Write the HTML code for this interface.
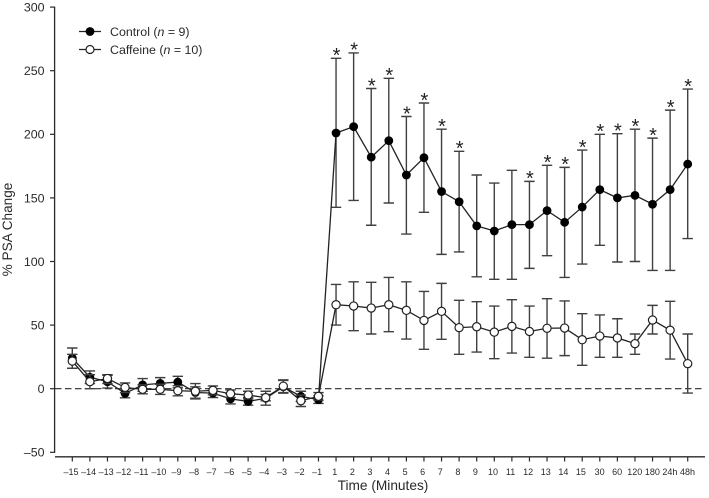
<!DOCTYPE html>
<html>
<head>
<meta charset="utf-8">
<title>% PSA Change over time</title>
<style>
html,body{margin:0;padding:0;background:#fff;width:709px;height:498px;overflow:hidden}
svg{display:block;font-family:"Liberation Sans",sans-serif}
</style>
</head>
<body>
<svg id="chart" xmlns="http://www.w3.org/2000/svg" width="709" height="498" viewBox="0 0 709 498">
  <g id="axes"></g>
  <g id="series-control"></g>
  <g id="series-caffeine"></g>
  <g id="stars"></g>
  <text transform="translate(12,229.5) rotate(-90)" text-anchor="middle" font-size="13.6" fill="#2a2a2a">% PSA Change</text>
  <text x="383" y="490" text-anchor="middle" font-size="13.7" fill="#2a2a2a">Time (Minutes)</text>
  <g>
    <g>
      <line x1="79" x2="101" y1="31.5" y2="31.5" stroke="#222" stroke-width="1.3"/>
      <circle cx="90" cy="31.5" r="4.4" fill="#000"/>
      <text x="110" y="36" font-size="12.4" fill="#2a2a2a">Control (<tspan font-style="italic">n</tspan> = 9)</text>
    </g>
    <g>
      <line x1="79" x2="101" y1="49.5" y2="49.5" stroke="#222" stroke-width="1.3"/>
      <circle cx="90" cy="49.5" r="4" fill="#fff" stroke="#222" stroke-width="1.2"/>
      <text x="110" y="54" font-size="12.4" fill="#2a2a2a">Caffeine (<tspan font-style="italic">n</tspan> = 10)</text>
    </g>
  </g>
</svg>
<script>
var categories = ["–15","–14","–13","–12","–11","–10","–9","–8","–7","–6","–5","–4","–3","–2","–1","1","2","3","4","5","6","7","8","9","10","11","12","13","14","15","30","60","120","180","24h","48h"];
var yTickValues = [300,250,200,150,100,50,0,-50];
var yTickLabels = ["300","250","200","150","100","50","0","–50"];

var controlMean = [24,9,5.5,-3.7,3,4.2,5.2,-3,-3.5,-8,-10,-7.5,1.5,-6,-8.6,201,206,182,195,168,181.6,155,147,128,124,129,129,140,130.8,142.8,156.5,150,152,145,156.5,176.6];
var controlUpper = [32,14,10.5,0,8,8.7,9.7,1.5,0,-4,-7,-2,6.5,-2,-5.6,259.7,264,236,244,214,224.6,204,186.6,168,161.7,171.7,163,175.6,174,187.6,200,200.5,204,197,219,235.6];
var controlLower = [16,4,0.5,-7.2,-2,-0.3,0.7,-7.5,-7,-12,-13,-13,-3.5,-10,-11.6,142.6,148,128.5,146,121.6,138.7,105.6,107.5,88,86,86,94.6,104.6,87.5,98,112.7,99.6,100,93,93,118];

var caffeineMean = [21.7,5.5,8,1,-0.5,-0.5,-1.6,-2,-1.3,-4,-5,-7,2,-9.5,-6,66,65,63.4,66,61.6,53.7,60.8,48,48.7,44.5,49,45,47.5,47.7,38.5,41.4,39.9,35.4,54,46,19.7];
var caffeineUpper = [27,11,11,4.5,3,3.5,2.4,4,2.2,-1,-2,-4.5,7,-5,-3,82,84,83.6,87.5,84,76.5,82.8,69.5,68.4,65,70,65,70.8,69,59,58,55,43,65.5,68.7,43];
var caffeineLower = [16,0,4,-3,-4,-4.5,-5.6,-8,-4.8,-7,-8,-9.5,-3,-14,-9,50,45.6,43,44.8,39,31,38.8,27,28.8,23.6,28,24.7,24,26,18.4,24.7,24.7,27,43,23.3,-3.4];

var significantCategories = ["1","2","3","4","5","6","7","8","12","13","14","15","30","60","120","180","24h","48h"];

var NS = "http://www.w3.org/2000/svg";
function xPos(i){ return 72.3 + i * 17.583; }
function yPos(v){ return 388.7 - v * 1.272; }
function mk(tag, parent, attrs, txt){
  var el = document.createElementNS(NS, tag);
  for (var k in attrs) el.setAttribute(k, attrs[k]);
  if (txt !== undefined) el.textContent = txt;
  parent.appendChild(el);
  return el;
}

var axes = document.getElementById("axes");
var yLine = mk("line", axes, {x1:54.6,x2:54.6,y1:yPos(300)-0.6,y2:yPos(-50)+0.6,stroke:"#2a2a2a","stroke-width":1.3});


var xLine = mk("line", axes, {x1:55,x2:705,y1:456.8,y2:456.8,stroke:"#2a2a2a","stroke-width":1.3});


var zeroLine = mk("line", axes, {x1:55,x2:705,y1:yPos(0),y2:yPos(0),stroke:"#2a2a2a","stroke-width":1.1,"stroke-dasharray":"6.5 3.5"});



yTickValues.forEach(function(v, i){
  var t = mk("line", axes, {x1:50,x2:54.6,y1:yPos(v),y2:yPos(v),stroke:"#2a2a2a","stroke-width":1.2});
  
  
  var l = mk("text", axes, {x:44.5,y:yPos(v)+4.4,"text-anchor":"end","font-size":12.4,fill:"#2a2a2a"}, yTickLabels[i]);
  
  
});
categories.forEach(function(c, i){
  var t = mk("line", axes, {x1:xPos(i),x2:xPos(i),y1:456.8,y2:461.5,stroke:"#2a2a2a","stroke-width":1.2});
  
  
  var l = mk("text", axes, {x:xPos(i)-(i<30?1.3:0.2),y:475,"text-anchor":"middle","font-size":9,fill:"#2a2a2a"}, c);
  
  
});

function drawSeries(groupId, mean, upper, lower, fill, r){
  var g = document.getElementById(groupId);
  mean.forEach(function(m, i){
    var x = xPos(i);
    var bar = mk("path", g, {d:"M"+x+" "+yPos(upper[i])+"V"+yPos(lower[i])+"M"+(x-5.2)+" "+yPos(upper[i])+"H"+(x+5.2)+"M"+(x-5.2)+" "+yPos(lower[i])+"H"+(x+5.2),stroke:"#404040",fill:"none","stroke-width":1.4});
    
    
  });
  var pts = mean.map(function(m, i){ return xPos(i) + "," + yPos(m); }).join(" ");
  var line = mk("polyline", g, {points:pts,fill:"none",stroke:"#222","stroke-width":1.3});
  
  
  mean.forEach(function(m, i){
    var p = mk("circle", g, {cx:xPos(i),cy:yPos(m),r:r,fill:fill,stroke:fill==="#000"?"none":"#222","stroke-width":1.2});
    
    
  });
}
drawSeries("series-control", controlMean, controlUpper, controlLower, "#000", 4.4);
drawSeries("series-caffeine", caffeineMean, caffeineUpper, caffeineLower, "#fff", 4.1);

var starsG = document.getElementById("stars");
significantCategories.forEach(function(c){
  var i = categories.indexOf(c);
  var s = mk("text", starsG, {x:xPos(i)+0.5,y:yPos(controlUpper[i])+3.8,"text-anchor":"middle","font-size":20,"font-weight":"normal",fill:"#222"}, "*");
  
  
});
</script>
</body>
</html>
